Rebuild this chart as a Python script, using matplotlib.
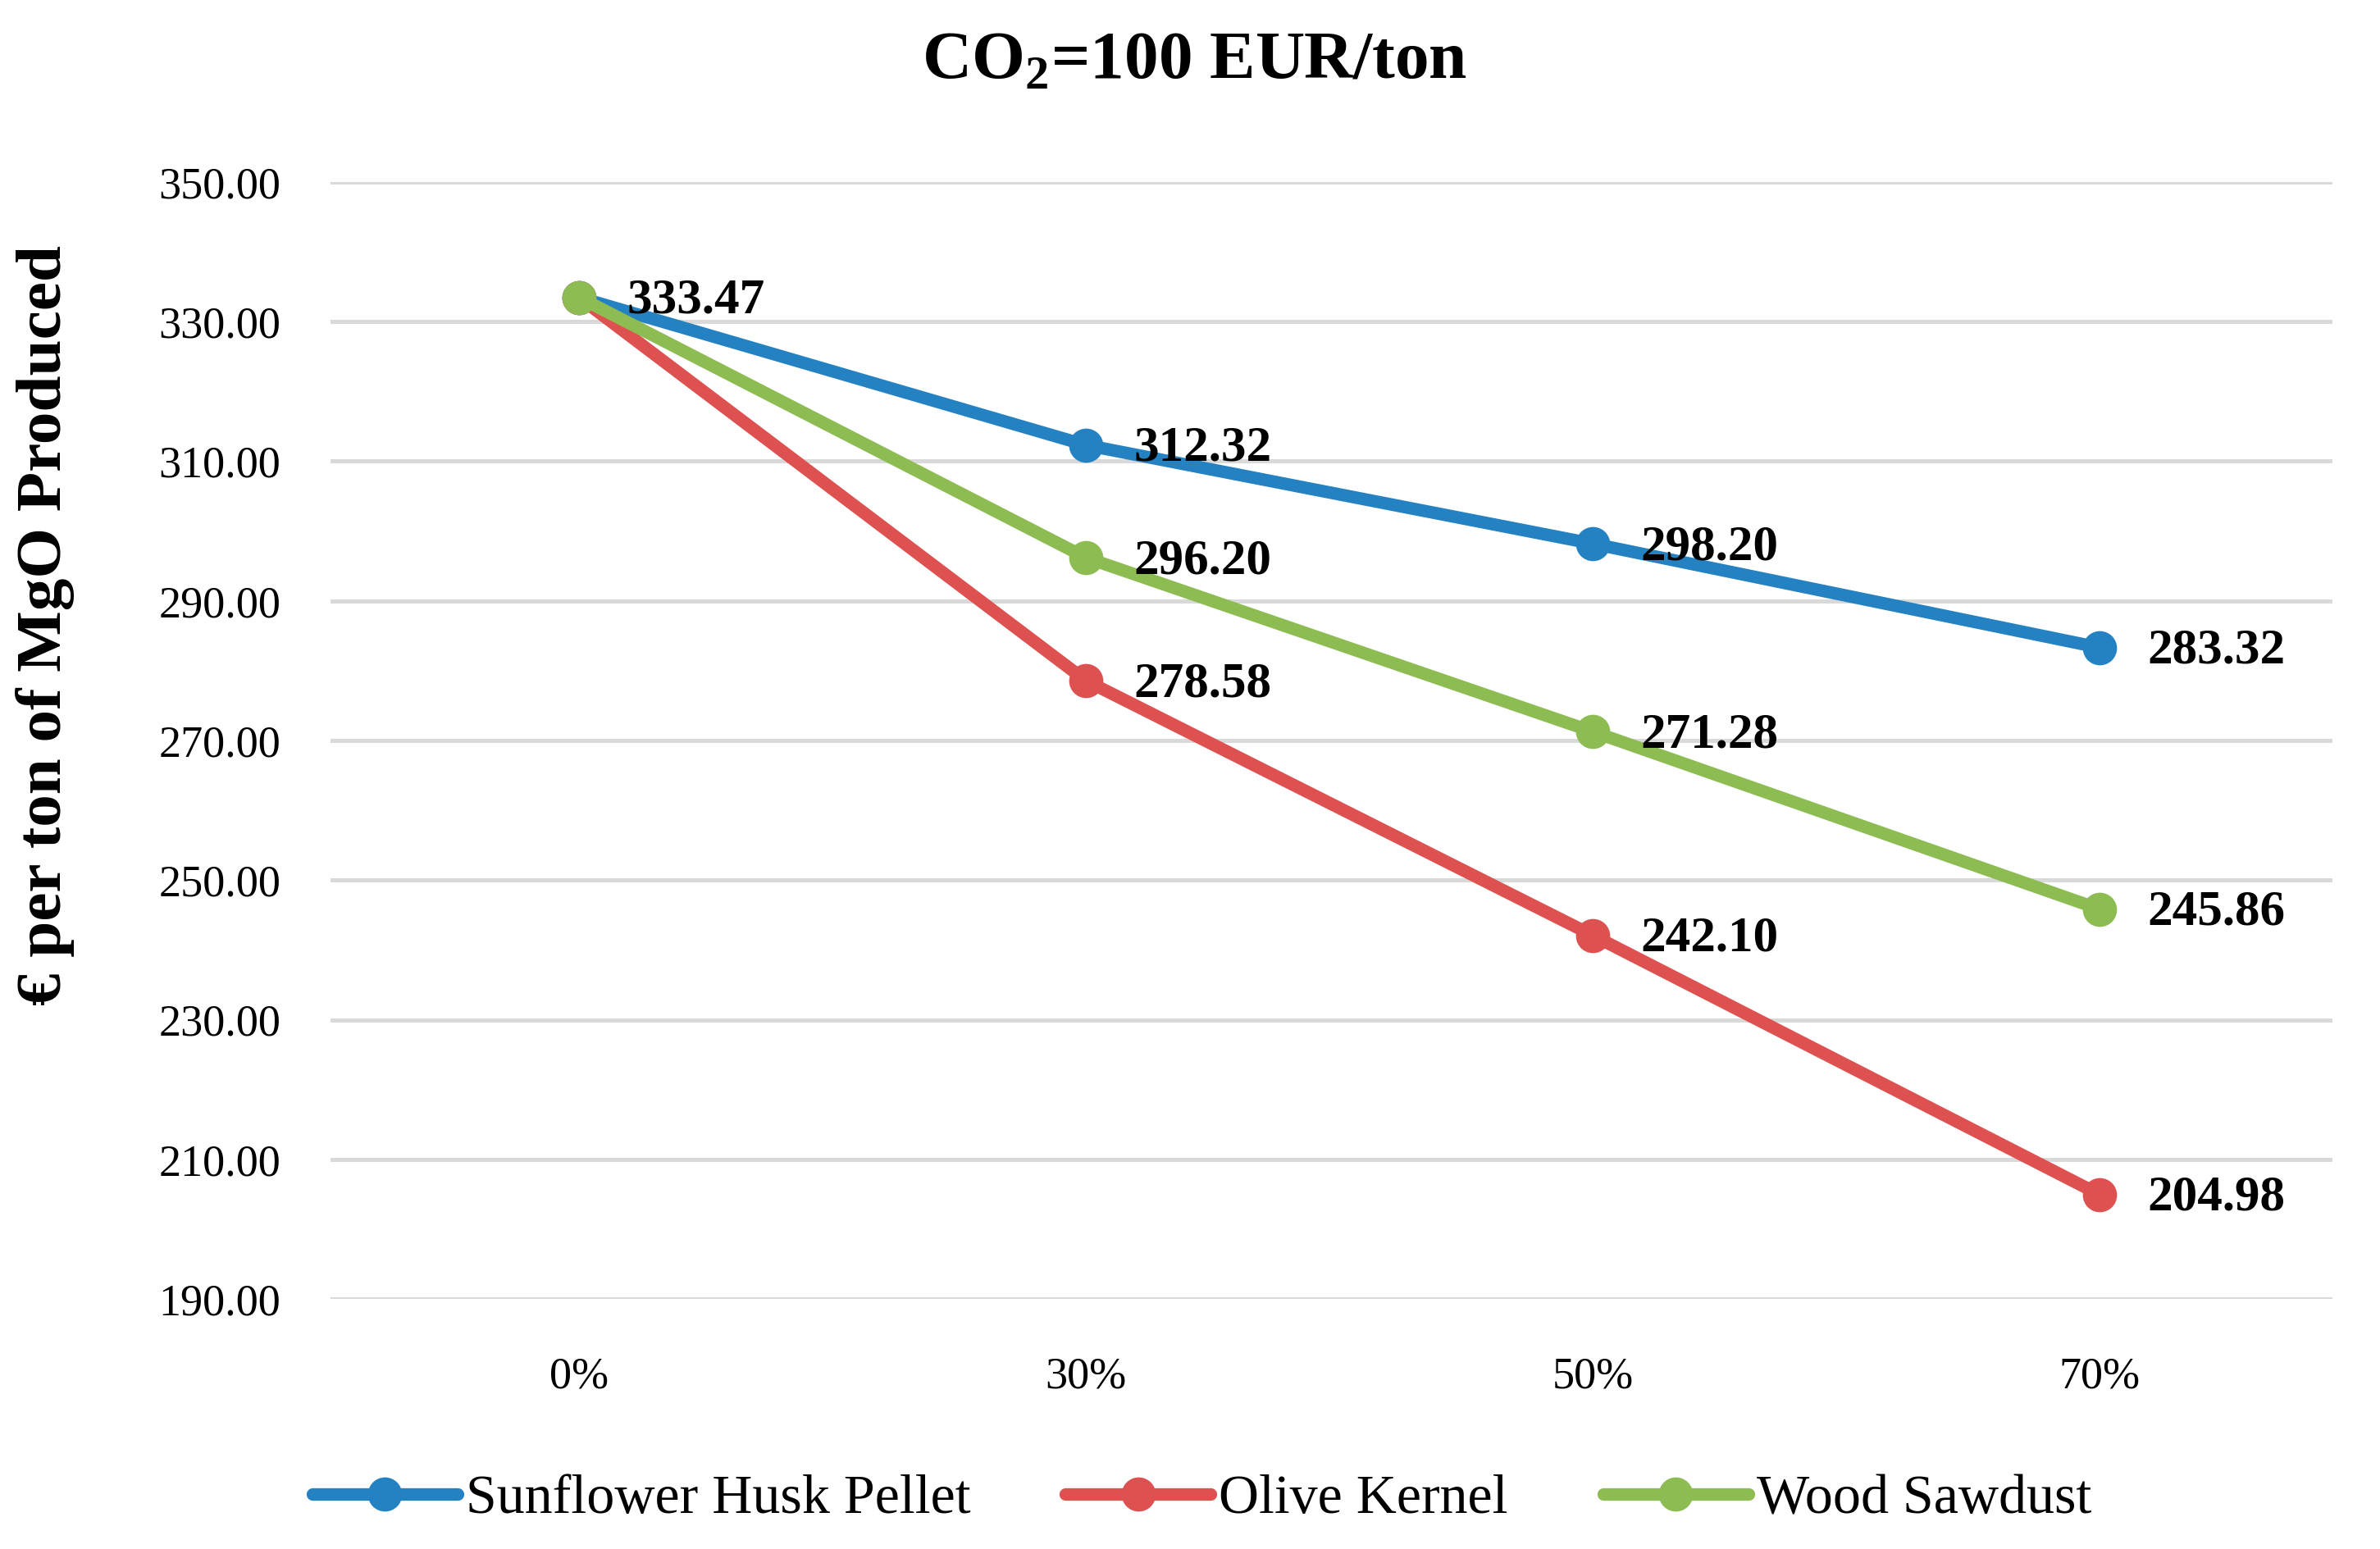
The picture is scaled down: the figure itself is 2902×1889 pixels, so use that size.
import matplotlib
matplotlib.use("Agg")
import matplotlib.pyplot as plt

categories = ["0%", "30%", "50%", "70%"]
sunflower = [333.47, 312.32, 298.20, 283.32]
olive = [333.47, 278.58, 242.10, 204.98]
wood = [333.47, 296.20, 271.28, 245.86]
series_names = ["Sunflower Husk Pellet", "Olive Kernel", "Wood Sawdust"]
yticks = [190, 210, 230, 250, 270, 290, 310, 330, 350]

colors = ["#2582C2", "#DE5151", "#8DBC52"]

plt.rcParams['font.family'] = ['Liberation Serif', 'DejaVu Serif']
plt.rcParams['mathtext.fontset'] = 'custom'
plt.rcParams['mathtext.rm'] = 'Liberation Serif'
plt.rcParams['mathtext.bf'] = 'Liberation Serif:bold'

fig = plt.figure(figsize=(14.51, 9.445), dpi=200)
ax = fig.add_axes([0.139, 0.1614, 0.841, 0.7211])

x = list(range(len(categories)))
data = [sunflower, olive, wood]
for vals, name, c in zip(data, series_names, colors):
    ax.plot(x, vals, color=c, lw=5.5, marker='o', ms=14, label=name,
            solid_capstyle='round', zorder=3)

def label(vals, start):
    for i in range(start, len(vals)):
        ax.annotate(f"{vals[i]:.2f}", (x[i], vals[i]), xytext=(21, -1.5),
                    textcoords='offset points', va='center', ha='left',
                    fontsize=22, fontweight='bold', zorder=5)

label(sunflower, 0)
label(olive, 1)
label(wood, 1)

ax.set_xlim(-0.49, 3.46)
ax.set_ylim(190, 350)
ax.set_yticks(yticks)
ax.set_yticklabels([f"{t:.2f}" for t in yticks])
ax.set_xticks(x)
ax.set_xticklabels(categories)
ax.tick_params(axis='both', length=0, labelsize=19.5)
ax.tick_params(axis='y', pad=22)
ax.tick_params(axis='x', pad=25)
ax.grid(axis='y', color='#D9D9D9', lw=1.8, zorder=0)
ax.set_axisbelow(True)
for s in ax.spines.values():
    s.set_visible(False)

ax.set_ylabel("€ per ton of MgO Produced", fontsize=28.5, fontweight='bold')
ax.yaxis.set_label_coords(-0.128, 0.603)

fig.text(0.502, 0.960, r"CO$_\mathbf{2}$=100 EUR/ton", ha='center', va='center',
         fontsize=30, fontweight='bold')

leg = fig.legend(loc='center', bbox_to_anchor=(0.505, 0.032), ncol=3, frameon=False,
                 fontsize=24.5, handlelength=2.6, handletextpad=0.15, columnspacing=1.7)

fig.savefig("out.png", dpi=200)
